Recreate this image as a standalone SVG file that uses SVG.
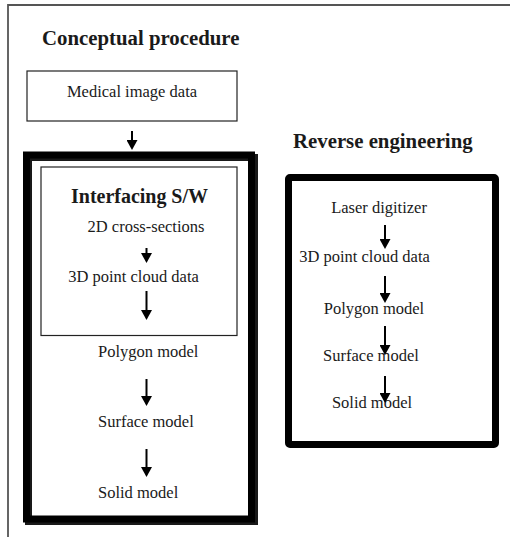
<svg xmlns="http://www.w3.org/2000/svg" width="510" height="537" viewBox="0 0 510 537">
<defs>
<style>
.t{font-family:"Liberation Serif","Times New Roman",serif;fill:#1a1a1a;}
.title{font-size:20.8px;font-weight:bold;}
.lbl{font-size:16.5px;}
.thin{fill:none;stroke:#222;stroke-width:1.2;}
.thick{fill:none;stroke:#000;stroke-width:7;}
.arr{fill:none;stroke:#000;stroke-width:2;marker-end:url(#ah);}
</style>
<marker id="ah" markerUnits="userSpaceOnUse" markerWidth="10" markerHeight="11" viewBox="0 0 10 11" refX="1" refY="5.5" orient="auto">
<path d="M0,0 L10,5.5 L0,11 Z" fill="#000"/>
</marker>
</defs>
<rect width="510" height="537" fill="#fff"/>
<g id="frame">
<path d="M8,537 V5 H510" fill="none" stroke="#555" stroke-width="1.8"/>
</g>
<text class="t title" x="42" y="45">Conceptual procedure</text>
<text class="t title" x="293" y="148">Reverse engineering</text>
<g id="medical">
<rect class="thin" x="27" y="71" width="210" height="50"/>
<text class="t lbl" x="132" y="97" text-anchor="middle">Medical image data</text>
</g>
<g id="conceptual-box">
<rect class="thick" x="28.5" y="157.5" width="226" height="364" opacity="0.9"/>
<rect class="thick" x="26.5" y="155" width="225" height="364"/>
</g>
<g id="interfacing">
<rect class="thin" x="41" y="167" width="196" height="168.5"/>
<text class="t" x="71" y="203" style="font-size:20px;font-weight:bold" textLength="137">Interfacing S/W</text>
</g>
<g id="cross-sections"><text class="t lbl" x="146" y="232" text-anchor="middle">2D cross-sections</text></g>
<g id="point-cloud-left"><text class="t lbl" x="133.5" y="282" text-anchor="middle">3D point cloud data</text></g>
<g id="polygon-left"><text class="t lbl" x="98" y="357">Polygon model</text></g>
<g id="surface-left"><text class="t lbl" x="98" y="427">Surface model</text></g>
<g id="solid-left"><text class="t lbl" x="98" y="498">Solid model</text></g>
<g id="reverse-box">
<rect class="thick" x="288.5" y="177.5" width="207" height="267" rx="1.5" stroke-width="7.5"/>
</g>
<g id="laser"><text class="t lbl" x="379" y="213" text-anchor="middle">Laser digitizer</text></g>
<g id="point-cloud-right"><text class="t lbl" x="364.5" y="262" text-anchor="middle">3D point cloud data</text></g>
<g id="polygon-right"><text class="t lbl" x="374" y="313.5" text-anchor="middle">Polygon model</text></g>
<g id="surface-right"><text class="t lbl" x="371" y="361" text-anchor="middle">Surface model</text></g>
<g id="solid-right"><text class="t lbl" x="372" y="408" text-anchor="middle">Solid model</text></g>
<g id="connectors">
<path class="arr" d="M132,131 V141"/>
<path class="arr" d="M146.5,248 V254"/>
<path class="arr" d="M146.5,291 V311"/>
<path class="arr" d="M146.5,379 V397"/>
<path class="arr" d="M146.5,449 V468"/>
<path class="arr" d="M385,225 V240"/>
<path class="arr" d="M385,276 V294"/>
<path class="arr" d="M385,326 V346"/>
<path class="arr" d="M385,376 V394"/>
</g>
</svg>
